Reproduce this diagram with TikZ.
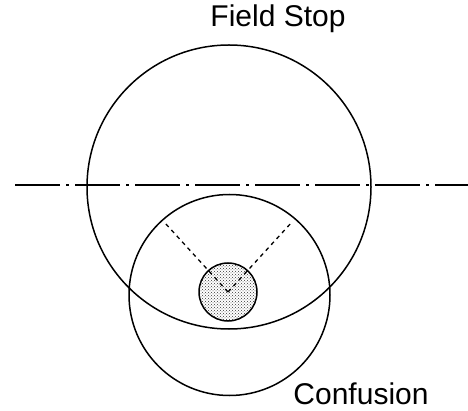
\documentclass[tikz,border=0pt]{standalone}
\usepackage{fontspec}
\setmainfont{Liberation Sans}
\usetikzlibrary{positioning, patterns}
\tikzset{
  ring/.style={circle, draw=black, line width=1.5pt, inner sep=0pt},
  spotdisk/.style={circle, draw=black, line width=1.5pt, inner sep=0pt,
    pattern=crosshatch dots, pattern color=black!80},
  axis/.style={line width=1.5pt, dash pattern=on 45pt off 6pt on 3pt off 6pt},
  ray/.style={line width=1.3pt, dash pattern=on 4pt off 4pt},
  label/.style={font=\fontsize{30}{33}\selectfont, inner sep=0pt}
}
\begin{document}
\begin{tikzpicture}[x=1pt, y=-1pt]
  \useasboundingbox (0,0) rectangle (468,411);
  \node [ring, minimum size=284pt] (stop) at (229,187) {};
  \node [ring, minimum size=201pt] (conf) at (229.5,295) {};
  \node [spotdisk, minimum size=58pt] (spot) at (228,292) {};

  \coordinate (axl) at (15,185);
  \coordinate (axr) at (468,185);
  \draw [axis] (axl) -- (axr);

  \coordinate (rl) at (165,223);
  \coordinate (rr) at (292,222);
  \draw [ray] (spot.center) -- (rl);
  \draw [ray] (spot.center) -- (rr);

  \node [label] (fs) at (278,19) {Field Stop};
  \node [label] (cf) at (361,394) {Confusion};
\end{tikzpicture}
\end{document}
